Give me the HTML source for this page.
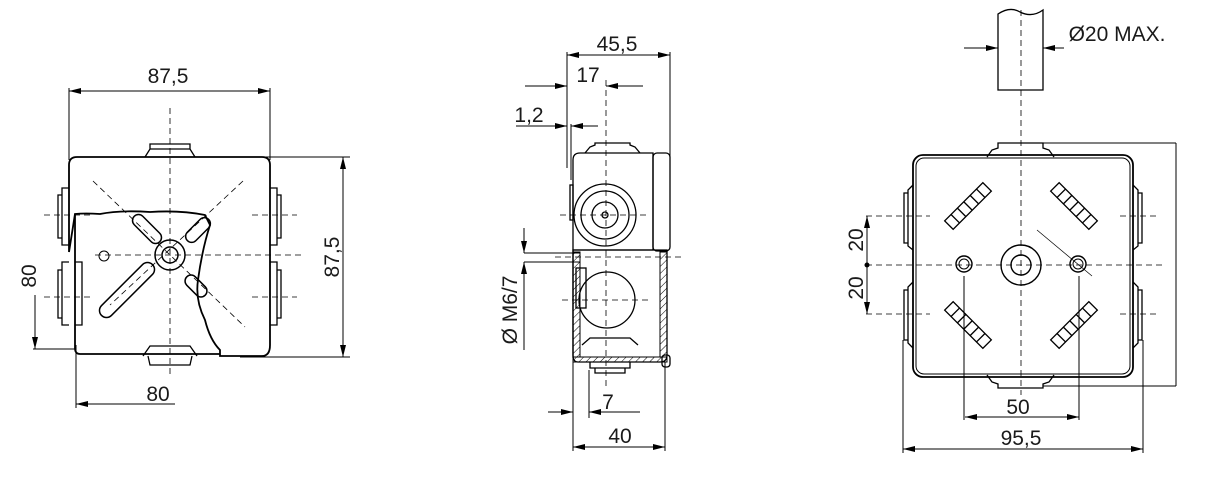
<!DOCTYPE html>
<html><head><meta charset="utf-8"><style>
html,body{margin:0;padding:0;background:#fff;}
svg{display:block;}
text{font-family:"Liberation Sans",sans-serif;font-size:21px;fill:#1a1a1a;}
</style></head><body>
<svg width="1209" height="477" viewBox="0 0 1209 477" xmlns="http://www.w3.org/2000/svg">
<defs>
<marker id="a" viewBox="0 0 12 6" refX="12" refY="3" markerWidth="12" markerHeight="6" orient="auto-start-reverse" markerUnits="userSpaceOnUse"><path d="M0,0 L12,3 L0,6z" fill="#000"/></marker>
<pattern id="h" width="5" height="5" patternUnits="userSpaceOnUse" patternTransform="rotate(45)"><line x1="0" y1="0" x2="0" y2="5" stroke="#000" stroke-width="1"/></pattern>
</defs>
<g fill="none" stroke="#000" stroke-width="1">
<!-- ===== LEFT VIEW ===== -->
<line x1="69" y1="88" x2="69" y2="160"/><line x1="270" y1="88" x2="270" y2="160"/>
<line x1="69" y1="91" x2="270" y2="91" marker-start="url(#a)" marker-end="url(#a)"/>
<line x1="240" y1="157" x2="350" y2="157"/><line x1="240" y1="357" x2="350" y2="357"/>
<line x1="343" y1="157" x2="343" y2="357" marker-start="url(#a)" marker-end="url(#a)"/>
<line x1="35" y1="295" x2="35" y2="349" marker-end="url(#a)"/>
<line x1="33" y1="349" x2="75" y2="349"/>
<line x1="76" y1="345" x2="76" y2="408"/>
<line x1="76" y1="404" x2="175" y2="404" marker-start="url(#a)"/>
<path d="M69,252 V165 Q69,157 77,157 H262 Q270,157 270,165 V345 Q270,356 262,356 H220 V350 Q210,340 205,320 Q195,300 198,280 Q202,250 210,225 L205,215 Q180,210 150,212 Q120,210 100,214 Q85,213 75,214 Z" stroke-width="1.8"/>
<path d="M75,214 V348 Q75,354 80,354 H220" stroke-width="1.8"/>
<path d="M145,157 L150,149 H190 L195,157 M150,149 V144 H190 V149" stroke-width="1.3"/>
<path d="M143,356 L150,346 H190 L197,356 M148,356 L150,365 H190 L192,356" stroke-width="1.3"/>
<path d="M69,188 H62 V245 H69 M62,195 H58 V238 H62" stroke-width="1.3"/>
<path d="M69,262 H62 V325 H69 M62,270 H58 V318 H62" stroke-width="1.3"/>
<path d="M75,262 H82 V325 H75" stroke-width="1.3"/>
<path d="M270,188 H277 V245 H270 M277,195 H281 V238 H277" stroke-width="1.3"/>
<path d="M270,262 H277 V325 H270 M277,270 H281 V318 H277" stroke-width="1.3"/>
<circle cx="170" cy="255" r="15" stroke-width="1.5"/><circle cx="170" cy="255" r="8" stroke-width="1.5"/>
<circle cx="104" cy="256" r="5"/>
<rect x="91" y="283" width="72" height="14" rx="7" transform="rotate(-45 127 290)" stroke-width="1.5"/>
<rect x="129" y="223" width="36" height="12" rx="6" transform="rotate(45 147 229)" stroke-width="1.5"/>
<rect x="183" y="224" width="30" height="12" rx="6" transform="rotate(-45 198 230)" stroke-width="1.5"/>
<rect x="183" y="280" width="26" height="12" rx="6" transform="rotate(45 196 286)" stroke-width="1.5"/>
<g stroke-dasharray="6,4" stroke-width="0.8">
<line x1="170" y1="108" x2="170" y2="378"/>
<line x1="95" y1="255" x2="305" y2="255"/>
<line x1="93" y1="181" x2="245" y2="327"/><line x1="243" y1="181" x2="110" y2="305"/>
<line x1="44" y1="215" x2="90" y2="215"/><line x1="252" y1="215" x2="297" y2="215"/>
<line x1="44" y1="297" x2="90" y2="297"/><line x1="252" y1="297" x2="297" y2="297"/>
</g>
<!-- ===== MIDDLE VIEW ===== -->
<line x1="567" y1="52" x2="567" y2="168"/><line x1="670" y1="52" x2="670" y2="160"/>
<line x1="567" y1="55" x2="670" y2="55" marker-start="url(#a)" marker-end="url(#a)"/>
<line x1="525" y1="86" x2="567" y2="86" marker-end="url(#a)"/><line x1="643" y1="86" x2="606" y2="86" marker-end="url(#a)"/>
<line x1="516" y1="126" x2="567" y2="126" marker-end="url(#a)"/><line x1="598" y1="126" x2="571" y2="126" marker-end="url(#a)"/>
<line x1="571" y1="124" x2="571" y2="180"/>
<line x1="524" y1="228" x2="524" y2="253" marker-end="url(#a)"/><line x1="524" y1="278" x2="524" y2="262" marker-end="url(#a)"/>
<line x1="524" y1="262" x2="524" y2="350"/>
<line x1="524" y1="253" x2="580" y2="253"/><line x1="524" y1="262" x2="580" y2="262"/>
<g stroke-width="1.3">
<path d="M573,358 V160 Q573,153 580,153 H653 V250 H573"/>
<rect x="653" y="153" width="17" height="98" rx="4"/>
<path d="M585,153 L590,147 L595,145 V143 H630 V145 L635,147 L640,153"/>
<rect x="570" y="185" width="3" height="35"/>
<circle cx="605" cy="215" r="31"/><circle cx="605" cy="215" r="24"/><circle cx="605" cy="215" r="13"/><circle cx="605" cy="215" r="3"/>
<path d="M573,250 H667 V355 Q667,362 660,362 H578 Q573,362 573,355 Z"/>
<rect x="576" y="268" width="10" height="40"/>
<circle cx="607" cy="300" r="28"/>
<path d="M582,345 L590,338 H630 L638,345 M590,362 V368 H630 V362 M595,368 V373 H625 V368"/>
<rect x="662" y="355" width="8" height="12" rx="3"/>
</g>
<path d="M573,252 H580 V357 H573 Z" fill="url(#h)"/>
<path d="M660,252 H667 V357 H660 Z" fill="url(#h)"/>
<path d="M573,357 H667 V362 H573 Z" fill="url(#h)"/>
<line x1="573" y1="362" x2="573" y2="451"/><line x1="665" y1="362" x2="665" y2="451"/>
<line x1="589" y1="370" x2="589" y2="418"/>
<line x1="548" y1="412" x2="573" y2="412" marker-end="url(#a)"/><line x1="640" y1="412" x2="589" y2="412" marker-end="url(#a)"/>
<line x1="573" y1="447" x2="665" y2="447" marker-start="url(#a)" marker-end="url(#a)"/>
<g stroke-dasharray="6,4" stroke-width="0.8">
<line x1="606" y1="80" x2="606" y2="390"/>
<line x1="560" y1="215" x2="650" y2="215"/>
<line x1="555" y1="257" x2="685" y2="257"/>
<line x1="562" y1="300" x2="650" y2="300"/>
</g>
<!-- ===== RIGHT VIEW ===== -->
<path d="M998,90 V14 Q1010,6 1020,12 Q1032,18 1043,10 V90 Z" stroke-width="1.3"/>
<line x1="964" y1="48" x2="998" y2="48" marker-end="url(#a)"/><line x1="1064" y1="48" x2="1043" y2="48" marker-end="url(#a)"/>
<rect x="913" y="155" width="220" height="222" rx="10" stroke-width="1.8"/>
<rect x="916" y="158" width="214" height="216" rx="8"/>
<g stroke-width="1.3">
<path d="M987,157 L992,150 L998,148 V143 H1043 V148 L1049,150 L1054,157"/>
<path d="M987,375 L992,382 L998,384 V388 H1043 V384 L1049,382 L1054,375"/>
<path d="M913,185 L908,190 V246 L913,250 M908,193 H904 V243 H908"/>
<path d="M913,282 L908,287 V343 L913,348 M908,290 H904 V340 H908"/>
<path d="M1133,185 L1138,190 V246 L1133,250 M1138,193 H1142 V243 H1138"/>
<path d="M1133,282 L1138,287 V343 L1133,348 M1138,290 H1142 V340 H1138"/>
</g>
<line x1="1043" y1="143" x2="1176" y2="143"/><line x1="1043" y1="386" x2="1176" y2="386"/><line x1="1176" y1="143" x2="1176" y2="386"/>
<g stroke-width="1.3">
<g transform="translate(968,206) rotate(-45)"><rect x="-27" y="-6" width="54" height="12"/><path d="M-18,-6v12M-9,-6v12M0,-6v12M9,-6v12M18,-6v12"/></g>
<g transform="translate(1074,206) rotate(45)"><rect x="-27" y="-6" width="54" height="12"/><path d="M-18,-6v12M-9,-6v12M0,-6v12M9,-6v12M18,-6v12"/></g>
<g transform="translate(968,325) rotate(45)"><rect x="-27" y="-6" width="54" height="12"/><path d="M-18,-6v12M-9,-6v12M0,-6v12M9,-6v12M18,-6v12"/></g>
<g transform="translate(1074,325) rotate(-45)"><rect x="-27" y="-6" width="54" height="12"/><path d="M-18,-6v12M-9,-6v12M0,-6v12M9,-6v12M18,-6v12"/></g>
</g>
<circle cx="1021" cy="265" r="20" stroke-width="1.4"/><circle cx="1021" cy="265" r="10" stroke-width="1.4"/>
<circle cx="964" cy="264" r="8" stroke-width="1.4"/><circle cx="964" cy="264" r="5"/>
<circle cx="1078" cy="264" r="8" stroke-width="1.4"/><circle cx="1078" cy="264" r="5"/>
<line x1="1037" y1="230" x2="1092" y2="276" stroke-width="0.7"/>
<line x1="867" y1="216" x2="867" y2="265" marker-start="url(#a)"/><line x1="867" y1="265" x2="867" y2="314" marker-end="url(#a)"/>
<circle cx="867" cy="265" r="2" fill="#000"/>
<line x1="964" y1="276" x2="964" y2="420"/><line x1="1079" y1="276" x2="1079" y2="420"/>
<line x1="965" y1="417" x2="1079" y2="417" marker-start="url(#a)" marker-end="url(#a)"/>
<line x1="903" y1="340" x2="903" y2="453"/><line x1="1143" y1="340" x2="1143" y2="453"/>
<line x1="903" y1="449" x2="1143" y2="449" marker-start="url(#a)" marker-end="url(#a)"/>
<g stroke-dasharray="6,4" stroke-width="0.8">
<line x1="1021" y1="10" x2="1021" y2="395"/>
<line x1="866" y1="265" x2="1163" y2="265"/>
<line x1="866" y1="216" x2="930" y2="216"/><line x1="1120" y1="216" x2="1160" y2="216"/>
<line x1="866" y1="314" x2="930" y2="314"/><line x1="1120" y1="314" x2="1160" y2="314"/>
</g>
</g>
<text x="168" y="83" text-anchor="middle">87,5</text>
<text transform="translate(339,257) rotate(-90)" text-anchor="middle">87,5</text>
<text transform="translate(36,276) rotate(-90)" text-anchor="middle">80</text>
<text x="158" y="401" text-anchor="middle">80</text>
<text x="617" y="51" text-anchor="middle">45,5</text>
<text x="588" y="82" text-anchor="middle">17</text>
<text x="529" y="122" text-anchor="middle">1,2</text>
<text transform="translate(517,310) rotate(-90)" text-anchor="middle">Ø M6/7</text>
<text x="608" y="409" text-anchor="middle">7</text>
<text x="620" y="443" text-anchor="middle">40</text>
<text x="1117" y="41" text-anchor="middle">Ø20 MAX.</text>
<text transform="translate(863,240) rotate(-90)" text-anchor="middle">20</text>
<text transform="translate(863,288) rotate(-90)" text-anchor="middle">20</text>
<text x="1018" y="414" text-anchor="middle">50</text>
<text x="1021" y="445" text-anchor="middle">95,5</text>
</svg>
</body></html>
